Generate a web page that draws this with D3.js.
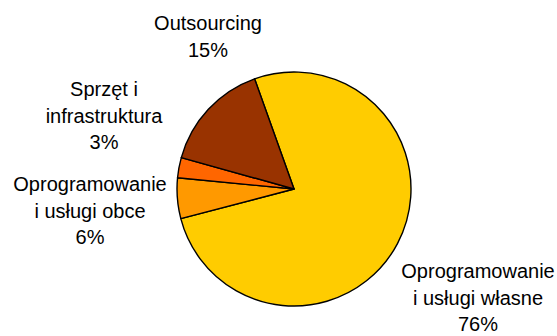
<!DOCTYPE html>
<html>
<head>
<meta charset="utf-8">
<script src="https://cdn.jsdelivr.net/npm/d3@7"></script>
<style>
  body { margin: 0; background: #fff; }
  text { font-family: "Liberation Sans", Arial, sans-serif; fill: #000; }
</style>
</head>
<body>
<div class="pie-chart"></div>
<script>
var width = 557,
    height = 336;

// slices, clockwise from the top boundary
var categories = [
    ["Oprogramowanie", "i usługi własne"],
    ["Oprogramowanie", "i usługi obce"],
    ["Sprzęt i", "infrastruktura"],
    ["Outsourcing"]
];
var shares = [76.4, 5.6, 2.8, 15.2];
var sliceColors = ["#FFCC00", "#FF9900", "#FF6600", "#993300"];

// where each label block sits (centre x, first baseline y)
var labelPos = [[478, 278], [90, 191], [104, 96], [208, 30]];

var pieCenter = {x: 294, y: 189},
    pieRadius = 117,
    lineHeight = 26.5;

var svg = d3.select(".pie-chart").append("svg")
    .attr("width", width)
    .attr("height", height);

var pie = d3.pie()
    .sort(null)
    .startAngle(-19.7 * Math.PI / 180)
    .endAngle(-19.7 * Math.PI / 180 + 2 * Math.PI);

var arc = d3.arc()
    .innerRadius(0)
    .outerRadius(pieRadius);

var slices = svg.append("g")
    .attr("transform", "translate(" + pieCenter.x + "," + pieCenter.y + ")")
    .selectAll("path")
    .data(pie(shares))
    .enter().append("path")
    .attr("d", arc)
    .attr("fill", function(d, i) { return sliceColors[i]; })
    .attr("stroke", "#000")
    .attr("stroke-width", 1.4)
    .attr("stroke-linejoin", "round");

var labels = svg.append("g")
    .selectAll("text")
    .data(shares)
    .enter().append("text")
    .attr("text-anchor", "middle")
    .attr("font-size", 20)
    .attr("transform", function(d, i) { return "translate(" + labelPos[i][0] + "," + labelPos[i][1] + ")"; });

labels.each(function(d, i) {
    var lines = categories[i].concat([Math.round(d) + "%"]);
    d3.select(this).selectAll("tspan")
        .data(lines)
        .enter().append("tspan")
        .attr("x", 0)
        .attr("y", function(l, j) { return j * lineHeight; })
        .text(function(l) { return l; });
});
</script>
</body>
</html>
